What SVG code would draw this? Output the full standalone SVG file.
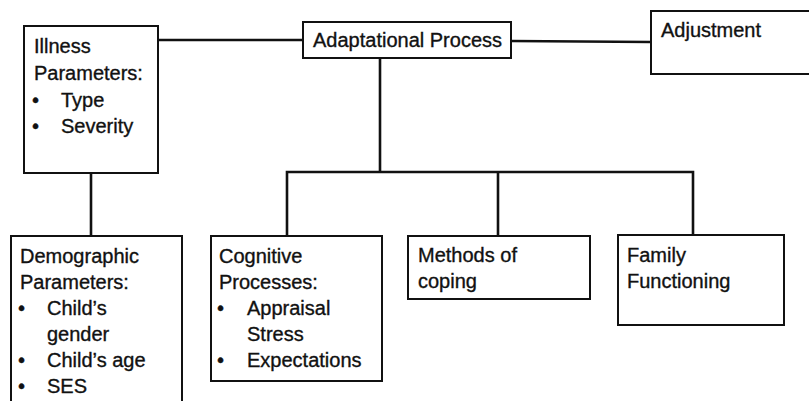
<svg xmlns="http://www.w3.org/2000/svg" width="809" height="401" viewBox="0 0 809 401">
<style>
.box{fill:#fff;stroke:#111;stroke-width:2}
.con{fill:none;stroke:#111;stroke-width:2.6}
text{font-family:"Liberation Sans",Arial,sans-serif;font-size:20px;fill:#111;stroke:#111;stroke-width:0.35}
</style>
<rect width="809" height="401" fill="#fff"/>
<g id="connectors">
<line class="con" x1="158" y1="40" x2="303" y2="40"/>
<polyline class="con" points="511,41 651,42"/>
<line class="con" x1="380" y1="58" x2="380" y2="172"/>
<polyline class="con" points="287,236 287,172 693,172 693,235"/>
<line class="con" x1="498" y1="172" x2="498" y2="236"/>
<line class="con" x1="91" y1="173" x2="91" y2="236"/>
</g>
<g id="illness">
<rect class="box" x="24" y="26" width="134" height="147"/>
<text x="34" y="53">Illness</text>
<text x="34" y="80">Parameters:</text>
<text x="32" y="107">•</text><text x="61" y="107">Type</text>
<text x="32" y="133">•</text><text x="61" y="133">Severity</text>
</g>
<g id="adaptational">
<rect class="box" x="303" y="22" width="208" height="36"/>
<text x="313" y="47">Adaptational Process</text>
</g>
<g id="adjustment">
<rect class="box" x="651" y="11" width="170" height="63"/>
<text x="661" y="37">Adjustment</text>
</g>
<g id="demographic">
<rect class="box" x="11" y="236" width="171" height="180"/>
<text x="20" y="263">Demographic</text>
<text x="20" y="289">Parameters:</text>
<text x="18" y="315">•</text><text x="47" y="315">Child’s</text>
<text x="47" y="341">gender</text>
<text x="18" y="367">•</text><text x="47" y="367">Child’s age</text>
<text x="18" y="393">•</text><text x="47" y="393">SES</text>
</g>
<g id="cognitive">
<rect class="box" x="211" y="236" width="171" height="145"/>
<text x="219" y="263">Cognitive</text>
<text x="219" y="289">Processes:</text>
<text x="217" y="315">•</text><text x="247" y="315">Appraisal</text>
<text x="247" y="341">Stress</text>
<text x="217" y="367">•</text><text x="247" y="367">Expectations</text>
</g>
<g id="methods">
<rect class="box" x="408" y="236" width="182" height="63"/>
<text x="418" y="262">Methods of</text>
<text x="418" y="288">coping</text>
</g>
<g id="family">
<rect class="box" x="618" y="235" width="166" height="90"/>
<text x="627" y="262">Family</text>
<text x="627" y="288">Functioning</text>
</g>
</svg>
